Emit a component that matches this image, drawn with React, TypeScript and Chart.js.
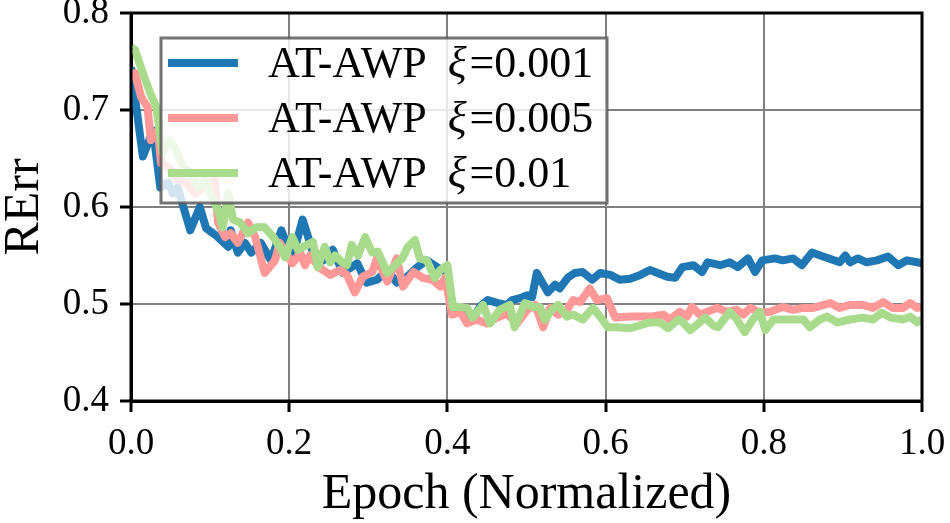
import { useEffect, useRef } from 'react';
import { Chart, registerables } from 'chart.js';

Chart.register(...registerables);

// AT-AWP xi=0.001
const blueEpoch = [0.000, 0.015, 0.028, 0.037, 0.047, 0.053, 0.059, 0.075, 0.087, 0.095, 0.107, 0.123, 0.126, 0.135, 0.144, 0.152, 0.164, 0.177, 0.190, 0.204, 0.217, 0.229, 0.243, 0.255, 0.268, 0.286, 0.298, 0.311, 0.324, 0.336, 0.349, 0.362, 0.374, 0.387, 0.400, 0.406, 0.420, 0.432, 0.441, 0.451, 0.464, 0.475, 0.482, 0.492, 0.501, 0.507, 0.513, 0.520, 0.527, 0.536, 0.542, 0.552, 0.561, 0.571, 0.583, 0.593, 0.606, 0.618, 0.631, 0.644, 0.656, 0.678, 0.688, 0.697, 0.711, 0.722, 0.729, 0.745, 0.757, 0.767, 0.780, 0.789, 0.798, 0.814, 0.824, 0.837, 0.848, 0.861, 0.875, 0.896, 0.903, 0.909, 0.919, 0.930, 0.943, 0.957, 0.970, 0.981, 0.994, 1.000];
const blueErr = [0.744, 0.652, 0.679, 0.620, 0.625, 0.614, 0.620, 0.576, 0.600, 0.578, 0.571, 0.559, 0.576, 0.553, 0.563, 0.553, 0.563, 0.545, 0.576, 0.548, 0.587, 0.556, 0.545, 0.556, 0.532, 0.542, 0.522, 0.525, 0.535, 0.522, 0.528, 0.538, 0.545, 0.538, 0.532, 0.500, 0.490, 0.484, 0.497, 0.504, 0.501, 0.499, 0.504, 0.506, 0.509, 0.507, 0.532, 0.522, 0.512, 0.520, 0.516, 0.527, 0.532, 0.533, 0.525, 0.532, 0.530, 0.525, 0.526, 0.530, 0.535, 0.528, 0.527, 0.538, 0.540, 0.533, 0.543, 0.540, 0.543, 0.538, 0.547, 0.533, 0.545, 0.547, 0.545, 0.547, 0.540, 0.553, 0.549, 0.543, 0.550, 0.543, 0.547, 0.543, 0.545, 0.549, 0.540, 0.545, 0.543, 0.542];

// AT-AWP xi=0.005
const pinkEpoch = [0.000, 0.005, 0.013, 0.021, 0.025, 0.034, 0.038, 0.047, 0.059, 0.070, 0.081, 0.091, 0.100, 0.106, 0.110, 0.119, 0.126, 0.135, 0.148, 0.157, 0.169, 0.182, 0.188, 0.204, 0.214, 0.220, 0.226, 0.239, 0.252, 0.264, 0.273, 0.283, 0.293, 0.305, 0.311, 0.324, 0.336, 0.344, 0.357, 0.369, 0.381, 0.391, 0.397, 0.406, 0.416, 0.425, 0.437, 0.450, 0.463, 0.475, 0.488, 0.501, 0.511, 0.521, 0.530, 0.540, 0.551, 0.559, 0.568, 0.580, 0.589, 0.602, 0.612, 0.631, 0.656, 0.673, 0.681, 0.694, 0.703, 0.709, 0.719, 0.741, 0.753, 0.766, 0.774, 0.783, 0.795, 0.808, 0.824, 0.837, 0.850, 0.862, 0.884, 0.896, 0.909, 0.925, 0.938, 0.951, 0.963, 0.976, 0.985, 0.994, 1.000];
const pinkErr = [0.735, 0.738, 0.713, 0.703, 0.669, 0.679, 0.645, 0.641, 0.628, 0.625, 0.614, 0.620, 0.620, 0.628, 0.584, 0.569, 0.573, 0.563, 0.584, 0.569, 0.532, 0.545, 0.563, 0.542, 0.553, 0.540, 0.550, 0.537, 0.530, 0.535, 0.530, 0.512, 0.528, 0.533, 0.547, 0.523, 0.547, 0.518, 0.533, 0.527, 0.525, 0.518, 0.527, 0.489, 0.492, 0.480, 0.484, 0.480, 0.486, 0.490, 0.480, 0.494, 0.499, 0.476, 0.496, 0.489, 0.494, 0.504, 0.502, 0.516, 0.504, 0.506, 0.486, 0.487, 0.487, 0.489, 0.484, 0.492, 0.487, 0.497, 0.489, 0.496, 0.492, 0.494, 0.489, 0.496, 0.491, 0.492, 0.497, 0.494, 0.496, 0.496, 0.501, 0.496, 0.499, 0.499, 0.496, 0.502, 0.496, 0.496, 0.501, 0.496, 0.497];

// AT-AWP xi=0.01
const greenEpoch = [0.000, 0.005, 0.015, 0.024, 0.032, 0.040, 0.049, 0.057, 0.066, 0.076, 0.085, 0.094, 0.104, 0.110, 0.116, 0.123, 0.129, 0.138, 0.148, 0.158, 0.169, 0.180, 0.190, 0.195, 0.204, 0.211, 0.230, 0.236, 0.245, 0.252, 0.258, 0.267, 0.273, 0.279, 0.287, 0.296, 0.305, 0.312, 0.324, 0.334, 0.343, 0.350, 0.359, 0.365, 0.374, 0.384, 0.391, 0.400, 0.407, 0.416, 0.425, 0.432, 0.445, 0.454, 0.466, 0.479, 0.485, 0.498, 0.508, 0.517, 0.523, 0.532, 0.540, 0.551, 0.559, 0.571, 0.584, 0.593, 0.603, 0.614, 0.631, 0.656, 0.669, 0.679, 0.692, 0.698, 0.707, 0.726, 0.736, 0.742, 0.757, 0.766, 0.776, 0.786, 0.795, 0.802, 0.812, 0.824, 0.837, 0.850, 0.858, 0.871, 0.880, 0.893, 0.909, 0.925, 0.938, 0.949, 0.960, 0.976, 0.985, 0.994, 1.000];
const greenErr = [0.765, 0.762, 0.738, 0.718, 0.703, 0.656, 0.669, 0.659, 0.641, 0.635, 0.620, 0.628, 0.607, 0.597, 0.579, 0.614, 0.587, 0.584, 0.573, 0.579, 0.579, 0.569, 0.556, 0.548, 0.569, 0.556, 0.564, 0.538, 0.559, 0.543, 0.550, 0.543, 0.540, 0.561, 0.550, 0.569, 0.553, 0.554, 0.532, 0.540, 0.547, 0.559, 0.566, 0.547, 0.545, 0.527, 0.535, 0.540, 0.497, 0.497, 0.496, 0.486, 0.499, 0.480, 0.494, 0.499, 0.476, 0.501, 0.497, 0.497, 0.484, 0.494, 0.499, 0.487, 0.489, 0.484, 0.496, 0.487, 0.476, 0.476, 0.475, 0.481, 0.481, 0.475, 0.484, 0.481, 0.473, 0.486, 0.478, 0.476, 0.492, 0.484, 0.471, 0.484, 0.492, 0.473, 0.484, 0.484, 0.484, 0.484, 0.476, 0.484, 0.487, 0.481, 0.484, 0.486, 0.484, 0.491, 0.486, 0.484, 0.487, 0.481, 0.484];

const methodName = 'AT-AWP';
const xiValues = ['0.001', '0.005', '0.01'];
const seriesColors = ['#1f77b4', '#ff9896', '#a8dc8c'];

const xTicks = [0, 0.2, 0.4, 0.6, 0.8, 1.0];
const yTicks = [0.4, 0.5, 0.6, 0.7, 0.8];

const FONT = '"Liberation Serif", "DejaVu Serif", serif';

const toPoints = (xs: number[], ys: number[]) => xs.map((x, i) => ({ x, y: ys[i] }));

// matplotlib-like legend: semi-transparent box with a grey frame, drawn inside the plot
const boxLegend = {
  id: 'boxLegend',
  afterDraw(chart: any) {
    const ctx = chart.ctx;
    const { left, top } = chart.chartArea;
    ctx.save();
    const bx = left + 30;
    const by = top + 25;
    ctx.fillStyle = 'rgba(255,255,255,0.8)';
    ctx.fillRect(bx, by, 446, 165);
    ctx.strokeStyle = 'rgba(90,90,90,0.85)';
    ctx.lineWidth = 3;
    ctx.strokeRect(bx, by, 446, 165);

    xiValues.forEach((xi, i) => {
      const cy = by + 25 + i * 55;
      ctx.strokeStyle = seriesColors[i];
      ctx.lineWidth = 8;
      ctx.lineCap = 'butt';
      ctx.beginPath();
      ctx.moveTo(bx + 7, cy);
      ctx.lineTo(bx + 77, cy);
      ctx.stroke();

      ctx.fillStyle = '#000';
      ctx.textBaseline = 'middle';
      let tx = bx + 107;
      ctx.font = `44px ${FONT}`;
      const head = methodName + ' ';
      ctx.fillText(head, tx, cy + 2);
      tx += ctx.measureText(head).width + 10;
      ctx.font = `italic 44px ${FONT}`;
      ctx.fillText('\u03be', tx, cy + 2);
      tx += ctx.measureText('\u03be').width + 3;
      ctx.font = `44px ${FONT}`;
      ctx.fillText('=' + xi, tx, cy + 2);
    });
    ctx.restore();
  },
};

// black frame on all four sides of the plot area
const frame = {
  id: 'frame',
  afterDatasetsDraw(chart: any) {
    const { left, top, right, bottom } = chart.chartArea;
    const ctx = chart.ctx;
    ctx.save();
    ctx.strokeStyle = '#000';
    ctx.lineWidth = 3;
    ctx.strokeRect(left, top, right - left, bottom - top);
    ctx.restore();
  },
};

const noScalePadding = (s: any) => {
  s.paddingTop = 0;
  s.paddingBottom = 0;
  s.paddingLeft = 0;
  s.paddingRight = 0;
};

export default function App() {
  const canvasRef = useRef<HTMLCanvasElement | null>(null);

  useEffect(() => {
    document.body.style.margin = '0';
    if (!canvasRef.current) return;

    const line = (data: { x: number; y: number }[], color: string, order: number) => ({
      data,
      borderColor: color,
      backgroundColor: color,
      borderWidth: 8,
      borderJoinStyle: 'round' as const,
      pointRadius: 0,
      tension: 0,
      fill: false,
      order,
    });

    const chart = new Chart(canvasRef.current, {
      type: 'line',
      data: {
        datasets: [
          line(toPoints(blueEpoch, blueErr), seriesColors[0], 2),
          line(toPoints(pinkEpoch, pinkErr), seriesColors[1], 1),
          line(toPoints(greenEpoch, greenErr), seriesColors[2], 0),
        ],
      },
      options: {
        responsive: false,
        animation: false,
        layout: { padding: { top: 13, right: 28, left: 0, bottom: 0 } },
        plugins: {
          legend: { display: false },
          tooltip: { enabled: false },
        },
        scales: {
          x: {
            type: 'linear',
            min: 0,
            max: 1,
            afterFit: (s: any) => { s.height = 122; noScalePadding(s); },
            afterBuildTicks: (s: any) => { s.ticks = xTicks.map((v) => ({ value: v })); },
            ticks: {
              color: '#000',
              padding: 10,
              font: { family: FONT, size: 37 },
              callback: (v: any) => Number(v).toFixed(1),
              maxRotation: 0,
            },
            grid: { color: '#808080', lineWidth: 2, tickColor: '#000', tickLength: 11, tickWidth: 3 },
            border: { display: true, color: '#000', width: 3 },
            title: {
              display: true,
              text: 'Epoch (Normalized)',
              color: '#000',
              font: { family: FONT, size: 50, lineHeight: 1 },
              padding: { top: 0, bottom: 3 },
            },
          },
          y: {
            min: 0.4,
            max: 0.8,
            afterFit: (s: any) => { s.width = 131; noScalePadding(s); },
            afterBuildTicks: (s: any) => { s.ticks = yTicks.map((v) => ({ value: v })); },
            ticks: {
              color: '#000',
              padding: 11,
              font: { family: FONT, size: 37 },
              callback: (v: any) => Number(v).toFixed(1),
            },
            grid: { color: '#808080', lineWidth: 2, tickColor: '#000', tickLength: 11, tickWidth: 3 },
            border: { display: true, color: '#000', width: 3 },
            title: {
              display: true,
              text: 'RErr',
              color: '#000',
              font: { family: FONT, size: 50, lineHeight: 1 },
              padding: { top: 0, bottom: 0 },
            },
          },
        },
      },
      plugins: [frame, boxLegend],
    });

    return () => chart.destroy();
  }, []);

  return (
    <div style={{ width: 950, height: 523, background: '#fff' }}>
      <canvas ref={canvasRef} width={950} height={523} />
    </div>
  );
}
